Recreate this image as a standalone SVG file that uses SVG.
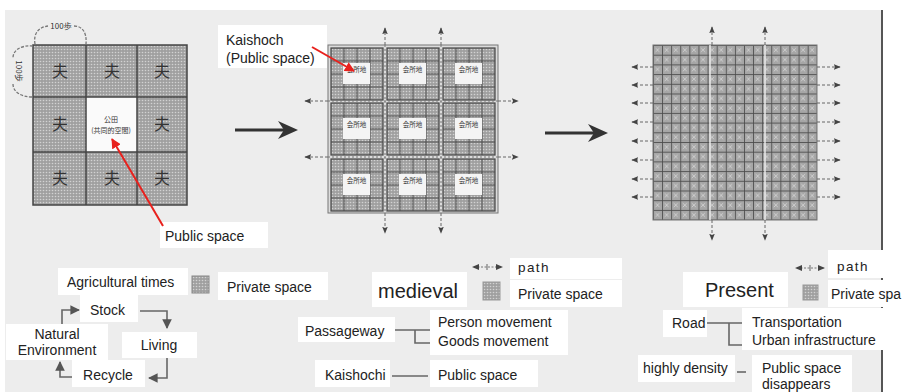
<svg xmlns="http://www.w3.org/2000/svg" width="903" height="392" viewBox="0 0 903 392">
<style>
.t{font-family:"Liberation Sans",Arial,sans-serif;font-size:14px;fill:#222}
.big{font-size:20px}
.mono{letter-spacing:1.4px;font-size:13.5px}
.box{fill:#fff}
.cjk{font-family:"Noto Sans CJK JP","Noto Sans CJK SC",sans-serif;fill:#333}
.ln{fill:none;stroke:#666;stroke-width:1.6}
.road{fill:none;stroke:#777;stroke-width:1;stroke-dasharray:2 2}
.red{fill:none;stroke:#e8211d;stroke-width:2}
.grid{stroke:#4a4a4a;stroke-width:0.9;fill:none}
</style>
<defs>
<pattern id="tone" width="3" height="3" patternUnits="userSpaceOnUse">
<rect width="3" height="3" fill="#a0a0a0"/>
<circle cx="1.5" cy="1.5" r="0.8" fill="#d2d2d2"/>
</pattern>
<pattern id="fine" x="653" y="45" width="9.1" height="9.7" patternUnits="userSpaceOnUse">
<rect width="9.1" height="9.7" fill="#a6a6a6"/>
<path d="M0,0.4H9.1M0.4,0V9.7" stroke="#4a4a4a" stroke-width="0.9"/>
<path d="M2.5,3L6.5,7M6.5,3L2.5,7" stroke="#d6d6d6" stroke-width="0.8"/>
</pattern>
<marker id="ah" viewBox="0 0 10 10" refX="9" refY="5" markerWidth="6" markerHeight="6" orient="auto">
<path d="M0,0L10,5L0,10Z" fill="#555"/>
</marker>
<marker id="ahr" viewBox="0 0 10 10" refX="9" refY="5" markerWidth="5" markerHeight="5" orient="auto">
<path d="M0,0L10,5L0,10Z" fill="#e8211d"/>
</marker>
<marker id="ahd" viewBox="0 0 10 10" refX="9" refY="5" markerWidth="7" markerHeight="7" orient="auto">
<path d="M0,1L10,5L0,9L2,5Z" fill="#444"/>
</marker>
<g id="blk">
<rect width="52" height="52" fill="url(#tone)" stroke="#444" stroke-width="1.2"/>
<path d="M13,0V52M26,0V52M39,0V52M0,13H52M0,26H52M0,39H52" class="grid"/>
<rect x="12" y="15" width="27" height="21" fill="#f4f4f4"/>
<text x="25.5" y="24" font-size="6.5" text-anchor="middle" class="cjk">会所地</text>
</g>
</defs>

<rect x="0" y="0" width="903" height="392" fill="#fff"/>
<rect x="5" y="10" width="877" height="382" fill="#ededed"/>
<rect x="881" y="10" width="2" height="382" fill="#555"/>

<!-- Left: well-field square -->
<g id="well-field">
<rect x="33" y="45" width="154" height="160" fill="url(#tone)" stroke="#444" stroke-width="1.5"/>
<rect x="86" y="97" width="51" height="55" fill="#fafafa"/>
<path d="M86,45V205M137,45V205M33,97H187M33,152H187" stroke="#444" stroke-width="1.5"/>
<g class="cjk" font-size="16" text-anchor="middle">
<text x="60" y="77">夫</text><text x="112" y="77">夫</text><text x="162" y="77">夫</text>
<text x="60" y="130">夫</text><text x="162" y="130">夫</text>
<text x="60" y="184">夫</text><text x="112" y="184">夫</text><text x="162" y="184">夫</text>
</g>
<text x="111" y="122" font-size="7" text-anchor="middle" class="cjk">公田</text>
<text x="111" y="133" font-size="7" text-anchor="middle" class="cjk">(共同的空間)</text>
<path d="M35,44C33,32 40,27 48,26M74,26C82,26 87,32 86,44" fill="none" stroke="#777" stroke-width="1.3" stroke-dasharray="3 1.5"/>
<text x="61" y="29" font-size="8" text-anchor="middle" class="cjk">100歩</text>
<path d="M33,46C21,45 13,50 13,58M13,84C13,92 21,97 33,97" fill="none" stroke="#777" stroke-width="1.3" stroke-dasharray="3 1.5"/>
<text x="0" y="0" font-size="8" text-anchor="middle" class="cjk" transform="translate(16,71) rotate(90)">100歩</text>
</g>

<!-- Big arrows -->
<g id="arrow1"><path d="M235,130H290" stroke="#333" stroke-width="3"/><path d="M278,121L298,130L278,139L284,130Z" fill="#333"/></g>
<g id="arrow2"><path d="M545,133H600" stroke="#333" stroke-width="3"/><path d="M588,124L608,133L588,142L594,133Z" fill="#333"/></g>

<!-- Middle: medieval blocks -->
<g id="medieval-map">
<rect x="328" y="45" width="170" height="168" fill="#dcdcdc" stroke="#777" stroke-width="1"/>
<use href="#blk" x="331" y="48"/><use href="#blk" x="387" y="48"/><use href="#blk" x="443" y="48"/>
<use href="#blk" x="331" y="103"/><use href="#blk" x="387" y="103"/><use href="#blk" x="443" y="103"/>
<use href="#blk" x="331" y="159"/><use href="#blk" x="387" y="159"/><use href="#blk" x="443" y="159"/>
<path d="M385,45V213M441,45V213M328,101H498M328,157H498" class="road"/>
<g stroke="#666" stroke-width="1" stroke-dasharray="3 2" fill="none" marker-end="url(#ahd)">
<path d="M385,45V28"/><path d="M441,45V28"/>
<path d="M385,213V233"/><path d="M441,213V233"/>
<path d="M328,101H305"/><path d="M328,157H305"/>
<path d="M498,101H518"/><path d="M498,157H518"/>
</g>
</g>

<!-- Right: present dense grid -->
<g id="present-map">
<rect x="653" y="45" width="164" height="175" fill="url(#fine)" stroke="#777" stroke-width="1"/>
<path d="M710,45V220M765,45V220" stroke="#eee" stroke-width="1.4"/>
<g stroke="#666" stroke-width="1" stroke-dasharray="3 2" fill="none" marker-end="url(#ahd)">
<path d="M712,45V27"/><path d="M765,45V27"/>
<path d="M712,220V240"/><path d="M765,220V240"/>
<path d="M653,67H632"/><path d="M653,85H632"/><path d="M653,103H632"/><path d="M653,122H632"/>
<path d="M653,141H632"/><path d="M653,160H632"/><path d="M653,179H632"/><path d="M653,197H632"/>
<path d="M817,67H840"/><path d="M817,85H840"/><path d="M817,103H840"/><path d="M817,122H840"/>
<path d="M817,141H840"/><path d="M817,160H840"/><path d="M817,179H840"/><path d="M817,197H840"/>
</g>
</g>

<!-- Labels -->
<g id="lbl-kaishoch"><rect class="box" x="218" y="25" width="109" height="43"/><text class="t" x="226" y="45">Kaishoch</text><text class="t" x="226" y="63">(Public space)</text></g>
<g id="lbl-public-space"><rect class="box" x="160" y="222" width="108" height="26"/><text class="t" x="165" y="241">Public space</text></g>

<!-- Legend: agricultural -->
<g id="n-agri"><rect class="box" x="58" y="268" width="130" height="27"/><text class="t" x="67" y="287">Agricultural times</text></g>
<g id="sw-1"><rect x="192" y="276" width="17" height="17" fill="url(#tone)" stroke="#888"/></g>
<g id="n-private1"><rect class="box" x="218" y="272" width="110" height="28"/><text class="t" x="227" y="292">Private space</text></g>
<g id="n-stock"><rect class="box" x="80" y="295" width="58" height="27"/><text class="t" x="90" y="315">Stock</text></g>
<g id="n-natural"><rect class="box" x="6" y="324" width="102" height="36"/><text class="t" x="57" y="339" text-anchor="middle" font-size="13.5">Natural</text><text class="t" x="57" y="355" text-anchor="middle" font-size="13.5">Environment</text></g>
<g id="n-living"><rect class="box" x="122" y="332" width="75" height="26"/><text class="t" x="159" y="350" text-anchor="middle">Living</text></g>
<g id="n-recycle"><rect class="box" x="72" y="360" width="73" height="27"/><text class="t" x="108" y="380" text-anchor="middle">Recycle</text></g>

<!-- Legend: medieval -->
<g id="n-medieval"><rect class="box" x="372" y="272" width="95" height="35"/><text class="t big" x="378" y="298">medieval</text></g>
<g id="icon-path1"><path d="M474,267H502" stroke="#777" stroke-width="1" stroke-dasharray="2 1.5"/><path d="M479,264L472,267L479,270Z" fill="#444"/><path d="M496,264L503,267L496,270Z" fill="#444"/><path d="M487,264V270" stroke="#666"/></g>
<g id="sw-2"><rect x="483" y="282" width="17" height="18" fill="url(#tone)" stroke="#999"/></g>
<g id="n-path1"><rect class="box" x="510" y="258" width="112" height="21"/><text class="t mono" x="518" y="272">path</text></g>
<g id="n-private2"><rect class="box" x="510" y="280" width="112" height="27"/><text class="t" x="518" y="299">Private space</text></g>
<g id="n-passage"><rect class="box" x="298" y="317" width="97" height="25"/><text class="t" x="305" y="336">Passageway</text></g>
<g id="n-movement"><rect class="box" x="430" y="310" width="138" height="45"/><text class="t" x="438" y="327">Person movement</text><text class="t" x="438" y="346">Goods movement</text></g>
<g id="n-kaishochi"><rect class="box" x="315" y="360" width="75" height="27"/><text class="t" x="325" y="380">Kaishochi</text></g>
<g id="n-public2"><rect class="box" x="430" y="360" width="108" height="27"/><text class="t" x="438" y="380">Public space</text></g>

<!-- Legend: present -->
<g id="n-present"><rect class="box" x="683" y="272" width="105" height="35"/><text class="t big" x="705" y="297" font-size="19">Present</text></g>
<g id="icon-path2"><path d="M797,268H825" stroke="#777" stroke-width="1" stroke-dasharray="2 1.5"/><path d="M802,265L795,268L802,271Z" fill="#444"/><path d="M818,265L825,268L818,271Z" fill="#444"/><path d="M810,265V271" stroke="#666"/></g>
<g id="sw-3"><rect x="803" y="285" width="15" height="15" fill="url(#tone)" stroke="#999"/></g>
<g id="n-path2"><rect class="box" x="828" y="250" width="75" height="28"/><text class="t mono" x="837" y="271">path</text></g>
<g id="n-private3"><rect class="box" x="828" y="280" width="75" height="27"/><text class="t" x="831" y="299" font-size="13.5" textLength="70" lengthAdjust="spacingAndGlyphs">Private spa</text></g>
<g id="n-road"><rect class="box" x="663" y="310" width="44" height="27"/><text class="t" x="672" y="328">Road</text></g>
<g id="n-transport"><rect class="box" x="742" y="308" width="161" height="42"/><text class="t" x="752" y="327">Transportation</text><text class="t" x="752" y="345">Urban infrastructure</text></g>
<g id="n-density"><rect class="box" x="638" y="355" width="97" height="27"/><text class="t" x="643" y="373">highly density</text></g>
<g id="n-disappear"><rect class="box" x="752" y="355" width="100" height="37"/><text class="t" x="762" y="373">Public space</text><text class="t" x="762" y="389">disappears</text></g>

<!-- Connectors -->
<g id="connectors">
<path class="ln" d="M140,311H167V328" marker-end="url(#ah)"/>
<path class="ln" d="M167,358V378H149" marker-end="url(#ah)"/>
<path class="ln" d="M72,377H60V362" marker-end="url(#ah)"/>
<path class="ln" d="M62,324V310H79" marker-end="url(#ah)"/>
<path class="ln" d="M395,330H430M415,330V343H430"/>
<path class="ln" d="M392,376H428"/>
<path class="ln" d="M707,323H742M729,323V345H742"/>
<path class="ln" d="M737,372H746"/>
<path class="red" d="M163,226L112,139" marker-end="url(#ahr)"/>
<path class="red" d="M312,47L354,71" marker-end="url(#ahr)"/>
</g>
</svg>
